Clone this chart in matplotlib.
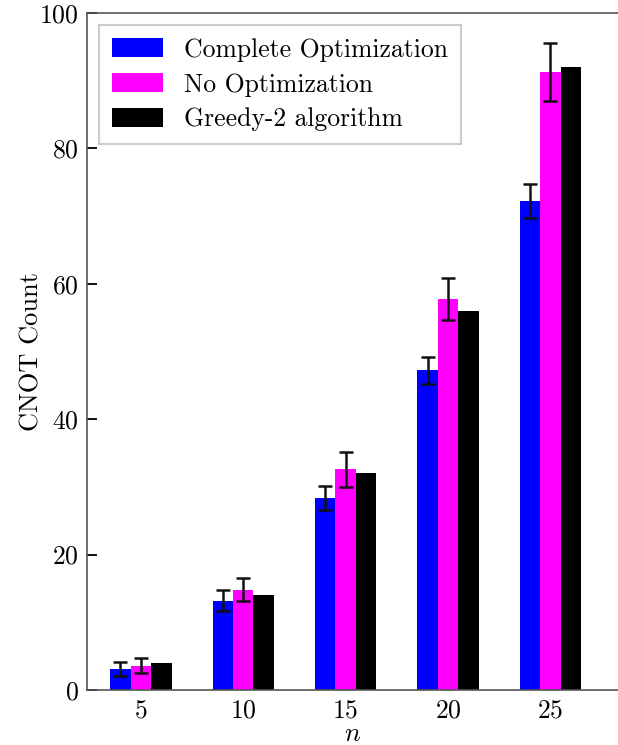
import numpy as np
import matplotlib
matplotlib.use('Agg')
import matplotlib.pyplot as plt

plt.rcParams['font.family'] = 'serif'
plt.rcParams['font.serif'] = ['cmr10']
plt.rcParams['mathtext.fontset'] = 'cm'
plt.rcParams['axes.formatter.use_mathtext'] = True

n_values = [5, 10, 15, 20, 25]
complete_opt = [3.1, 13.2, 28.4, 47.2, 72.2]
complete_err = [1.0, 1.6, 1.75, 2.0, 2.55]
no_opt = [3.6, 14.8, 32.6, 57.8, 91.3]
no_opt_err = [1.1, 1.7, 2.55, 3.1, 4.25]
greedy2 = [4, 14, 32, 56, 92]

labels = ['Complete Optimization', 'No Optimization', 'Greedy-2 algorithm']
colors = ['blue', 'magenta', 'black']

fig = plt.figure(figsize=(6.18, 7.45), dpi=100)
ax = fig.add_axes([87 / 618, 55 / 745, (618 - 87) / 618, (690 - 13) / 745])

x = np.array(n_values)
w = 1.0
err_kw = dict(ecolor='#111111', elinewidth=1.8, capsize=5, capthick=1.8)
ax.bar(x - w, complete_opt, w, yerr=complete_err, color=colors[0], label=labels[0], error_kw=err_kw)
ax.bar(x, no_opt, w, yerr=no_opt_err, color=colors[1], label=labels[1], error_kw=err_kw)
ax.bar(x + w, greedy2, w, color=colors[2], label=labels[2])

ax.set_xlim(2.37, 28.3)
ax.set_ylim(0, 100)
ax.set_xticks(n_values)
ax.set_yticks([0, 20, 40, 60, 80, 100])
ax.tick_params(axis='x', length=0, pad=6, labelsize=18.5)
ax.tick_params(axis='y', direction='in', length=7, width=1.3, pad=6, labelsize=18.5)
for s in ['left', 'bottom', 'top']:
    ax.spines[s].set_color('#555555')
    ax.spines[s].set_linewidth(1.2)
ax.spines['right'].set_visible(False)

ax.set_xlabel('$n$', fontsize=19, labelpad=0)
ax.set_ylabel('CNOT Count', fontsize=19, labelpad=-3)

leg = ax.legend(loc='upper left', fontsize=18.5, fancybox=False, framealpha=1,
                edgecolor='#cccccc', handlelength=2.0, handleheight=0.75,
                borderpad=0.5, labelspacing=0.43, handletextpad=0.8,
                borderaxespad=0, bbox_to_anchor=(0.0226, 0.982))
leg.get_frame().set_linewidth(1.5)

fig.savefig('out.png', dpi=100)
